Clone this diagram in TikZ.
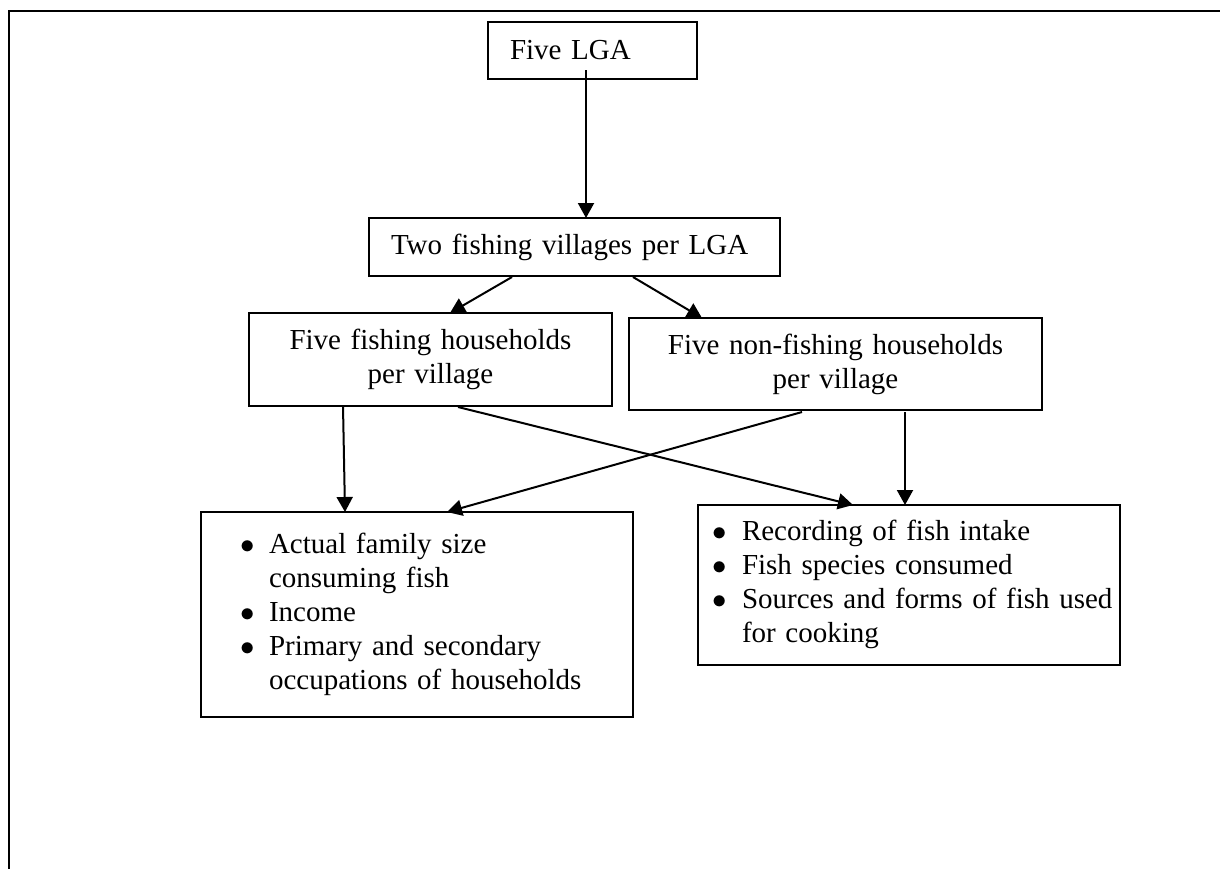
\documentclass[tikz,border=0pt]{standalone}
\usepackage{fontspec}
\setmainfont{Liberation Serif}
\usetikzlibrary{positioning,arrows.meta,calc}
\tikzset{
  fig/.style={font=\fontsize{14.5}{17}\selectfont},
  box/.style={draw,line width=0.9pt,anchor=north west,outer sep=0pt,inner ysep=0pt},
  ln/.style={-{Triangle[length=7.5pt,width=8pt]},line width=1pt},
}
\newcommand{\bul}{$\bullet$}

\begin{document}
\begin{tikzpicture}[fig,x=0.5pt,y=-0.5pt,
  headbox/.style={box,align=left,inner xsep=11pt},
  hhbox/.style={box,align=center,inner xsep=0pt},
  listbox/.style={box,align=left}]

\useasboundingbox (0,0) rectangle (1220,869);
\draw[line width=1pt] (1220,10.5) -- (9,10.5) -- (9,869);

\node[headbox,minimum width=104.5pt,minimum height=28.5pt,text width=82.5pt]
  (lga) at (488,22) {Five LGA};
\node[headbox,minimum width=205.5pt,minimum height=29pt,text width=183.5pt]
  (villages) at (369,218) {Two fishing villages per LGA};

\node[hhbox,minimum width=181.5pt,minimum height=46.5pt,text width=181.5pt]
  (fishing) at (249,313) {Five fishing households\\per village};
\node[hhbox,minimum width=206.5pt,minimum height=46pt,text width=206.5pt]
  (nonfish) at (629,318) {Five non-fishing households\\per village};

\node[listbox,minimum width=216pt,minimum height=102.5pt,inner xsep=19.5pt,text width=177pt]
  (leftlist) at (201,512)
  {\begin{tabular}{@{}p{14.5pt}@{}l@{}}
   \bul & Actual family size\\
        & consuming fish\\
   \bul & Income\\
   \bul & Primary and secondary\\
        & occupations of households
   \end{tabular}};
\node[listbox,minimum width=211pt,minimum height=80pt,inner xsep=7pt,text width=197pt]
  (rightlist) at (698,505)
  {\begin{tabular}{@{}p{15pt}@{}l@{}}
   \bul & Recording of fish intake\\
   \bul & Fish species consumed\\
   \bul & Sources and forms of fish used\\
        & for cooking
   \end{tabular}};

\draw[ln] ($(lga.south)+(-6.5,-9)$) -- ($(villages.north)+(11.5,0)$);
\draw[ln] ($(villages.south)+(-62.5,1)$) -- ($(fishing.north)+(19.5,0)$);
\draw[ln] ($(villages.south)+(58.5,1)$) -- ($(nonfish.north)+(-133.5,0)$);
\draw[ln] ($(fishing.south)+(-87.5,0)$) -- ($(leftlist.north)+(-72,0)$);
\draw[ln] ($(fishing.south)+(27.5,1)$) -- ($(rightlist.north)+(-56,0)$);
\draw[ln] ($(nonfish.south)+(-33.5,2)$) -- ($(leftlist.north)+(30,0)$);
\draw[ln] ($(nonfish.south)+(69.5,2)$) -- ($(rightlist.north)+(-4,0)$);

\end{tikzpicture}
\end{document}
